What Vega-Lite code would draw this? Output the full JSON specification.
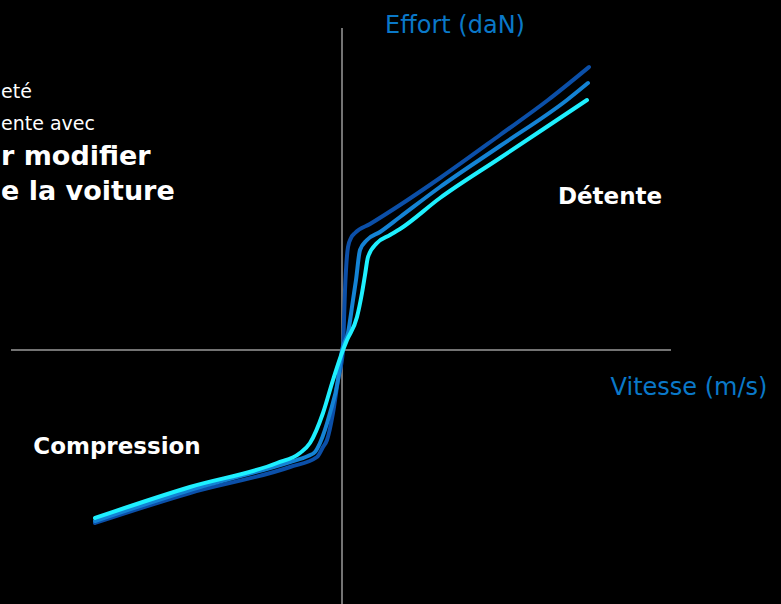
{
  "$schema": "https://vega.github.io/schema/vega-lite/v6.json",
  "width": 781,
  "height": 604,
  "padding": 0,
  "autosize": {"type": "none"},
  "background": "#000000",
  "config": {"view": {"stroke": null}},
  "datasets": {
    "axes": [
      {"axis": "h", "x": -331, "y": 0, "x2": 329, "y2": 0},
      {"axis": "v", "x": 0, "y": 322, "x2": 0, "y2": -254}
    ],
    "curves": [
      {"s": "A", "o": 1, "v": -247, "f": -173},
      {"s": "A", "o": 2, "v": -152, "f": -143},
      {"s": "A", "o": 3, "v": -52, "f": -117},
      {"s": "A", "o": 4, "v": -25, "f": -107},
      {"s": "A", "o": 5, "v": -19, "f": -97},
      {"s": "A", "o": 6, "v": -15, "f": -90},
      {"s": "A", "o": 7, "v": -9, "f": -63},
      {"s": "A", "o": 8, "v": -4, "f": -30},
      {"s": "A", "o": 9, "v": 1, "f": 0},
      {"s": "A", "o": 10, "v": 2, "f": 30},
      {"s": "A", "o": 11, "v": 3, "f": 60},
      {"s": "A", "o": 12, "v": 4, "f": 80},
      {"s": "A", "o": 13, "v": 6, "f": 103},
      {"s": "A", "o": 14, "v": 9, "f": 112},
      {"s": "A", "o": 15, "v": 13, "f": 117},
      {"s": "A", "o": 16, "v": 28, "f": 126},
      {"s": "A", "o": 17, "v": 58, "f": 145},
      {"s": "A", "o": 18, "v": 98, "f": 172},
      {"s": "A", "o": 19, "v": 158, "f": 215},
      {"s": "A", "o": 20, "v": 206, "f": 250},
      {"s": "A", "o": 21, "v": 247, "f": 283},
      {"s": "B", "o": 1, "v": -247, "f": -171},
      {"s": "B", "o": 2, "v": -152, "f": -140},
      {"s": "B", "o": 3, "v": -52, "f": -112},
      {"s": "B", "o": 4, "v": -34, "f": -106},
      {"s": "B", "o": 5, "v": -27, "f": -102},
      {"s": "B", "o": 6, "v": -22, "f": -93},
      {"s": "B", "o": 7, "v": -12, "f": -63},
      {"s": "B", "o": 8, "v": -4, "f": -30},
      {"s": "B", "o": 9, "v": 0, "f": 0},
      {"s": "B", "o": 10, "v": 6, "f": 17},
      {"s": "B", "o": 11, "v": 11, "f": 50},
      {"s": "B", "o": 12, "v": 14, "f": 70},
      {"s": "B", "o": 13, "v": 18, "f": 100},
      {"s": "B", "o": 14, "v": 25, "f": 110},
      {"s": "B", "o": 15, "v": 38, "f": 118},
      {"s": "B", "o": 16, "v": 58, "f": 133},
      {"s": "B", "o": 17, "v": 98, "f": 163},
      {"s": "B", "o": 18, "v": 158, "f": 204},
      {"s": "B", "o": 19, "v": 225, "f": 250},
      {"s": "B", "o": 20, "v": 246, "f": 267},
      {"s": "C", "o": 1, "v": -247, "f": -168},
      {"s": "C", "o": 2, "v": -152, "f": -137},
      {"s": "C", "o": 3, "v": -65, "f": -113},
      {"s": "C", "o": 4, "v": -42, "f": -103},
      {"s": "C", "o": 5, "v": -32, "f": -93},
      {"s": "C", "o": 6, "v": -19, "f": -63},
      {"s": "C", "o": 7, "v": -9, "f": -30},
      {"s": "C", "o": 8, "v": 1, "f": 0},
      {"s": "C", "o": 9, "v": 5, "f": 10},
      {"s": "C", "o": 10, "v": 15, "f": 33},
      {"s": "C", "o": 11, "v": 20, "f": 57},
      {"s": "C", "o": 12, "v": 23, "f": 75},
      {"s": "C", "o": 13, "v": 26, "f": 93},
      {"s": "C", "o": 14, "v": 35, "f": 107},
      {"s": "C", "o": 15, "v": 48, "f": 115},
      {"s": "C", "o": 16, "v": 58, "f": 121},
      {"s": "C", "o": 17, "v": 98, "f": 152},
      {"s": "C", "o": 18, "v": 158, "f": 192},
      {"s": "C", "o": 19, "v": 245, "f": 250}
    ],
    "labels": [
      {"kind": "axis", "label": "Effort (daN)", "x": 113, "y": 317},
      {"kind": "axis", "label": "Vitesse (m/s)", "x": 347, "y": -45},
      {"kind": "zone", "label": "Détente", "x": 268, "y": 146},
      {"kind": "zone", "label": "Compression", "x": -225, "y": -104}
    ],
    "cut": [
      {"kind": "small", "label": "eté", "x": -341, "y": 252},
      {"kind": "small", "label": "ente avec", "x": -341, "y": 220},
      {"kind": "big", "label": "r modifier", "x": -341, "y": 185},
      {"kind": "big", "label": "e la voiture", "x": -341, "y": 150}
    ]
  },
  "layer": [
    {
      "data": {"name": "axes"},
      "mark": {"type": "rule", "color": "#9a9a9a", "strokeWidth": 1.5},
      "encoding": {
        "x": {"field": "x", "type": "quantitative", "scale": {"domain": [-342, 439], "nice": false, "zero": false}, "axis": null},
        "y": {"field": "y", "type": "quantitative", "scale": {"domain": [-254, 350], "nice": false, "zero": false}, "axis": null},
        "x2": {"field": "x2"},
        "y2": {"field": "y2"}
      }
    },
    {
      "data": {"name": "curves"},
      "mark": {"type": "line", "strokeWidth": 4, "interpolate": "monotone", "strokeCap": "round", "strokeJoin": "round"},
      "encoding": {
        "x": {"field": "v", "type": "quantitative"},
        "y": {"field": "f", "type": "quantitative"},
        "order": {"field": "o", "type": "quantitative"},
        "color": {"field": "s", "type": "nominal", "scale": {"domain": ["A", "B", "C"], "range": ["#0b4fa8", "#1483d4", "#1ef0ff"]}, "legend": null}
      }
    },
    {
      "data": {"name": "labels"},
      "transform": [{"filter": "datum.kind === 'axis'"}],
      "mark": {"type": "text", "align": "center", "baseline": "alphabetic", "font": "DejaVu Sans", "fontSize": 24, "color": "#0a78c8"},
      "encoding": {
        "x": {"field": "x", "type": "quantitative"},
        "y": {"field": "y", "type": "quantitative"},
        "text": {"field": "label"}
      }
    },
    {
      "data": {"name": "labels"},
      "transform": [{"filter": "datum.kind === 'zone'"}],
      "mark": {"type": "text", "align": "center", "baseline": "alphabetic", "font": "DejaVu Sans", "fontWeight": "bold", "fontSize": 23, "color": "#ffffff"},
      "encoding": {
        "x": {"field": "x", "type": "quantitative"},
        "y": {"field": "y", "type": "quantitative"},
        "text": {"field": "label"}
      }
    },
    {
      "data": {"name": "cut"},
      "transform": [{"filter": "datum.kind === 'small'"}],
      "mark": {"type": "text", "align": "left", "baseline": "alphabetic", "font": "DejaVu Sans", "fontSize": 19, "color": "#ffffff"},
      "encoding": {
        "x": {"field": "x", "type": "quantitative"},
        "y": {"field": "y", "type": "quantitative"},
        "text": {"field": "label"}
      }
    },
    {
      "data": {"name": "cut"},
      "transform": [{"filter": "datum.kind === 'big'"}],
      "mark": {"type": "text", "align": "left", "baseline": "alphabetic", "font": "DejaVu Sans", "fontWeight": "bold", "fontSize": 27, "color": "#ffffff"},
      "encoding": {
        "x": {"field": "x", "type": "quantitative"},
        "y": {"field": "y", "type": "quantitative"},
        "text": {"field": "label"}
      }
    }
  ]
}
